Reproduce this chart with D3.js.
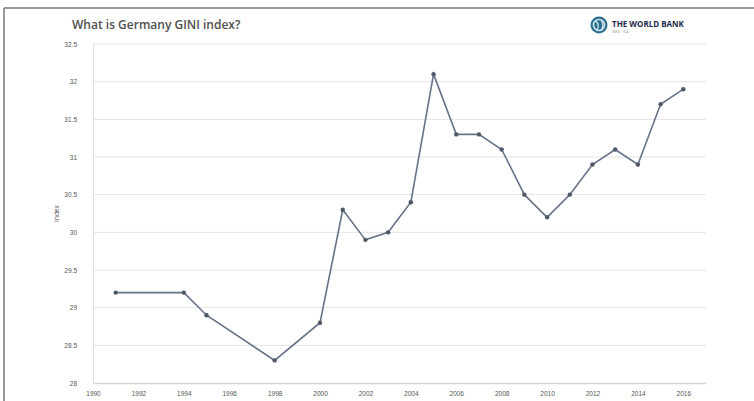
<!DOCTYPE html>
<html>
<head>
<meta charset="utf-8">
<script src="https://cdn.jsdelivr.net/npm/d3@7"></script>
<style>
  html, body { margin: 0; padding: 0; background: #fff; }
  svg { display: block; font-family: "Open Sans", "DejaVu Sans", sans-serif; }
</style>
</head>
<body>
<svg id="chart" width="754" height="401"></svg>
<script>
const years = [1991, 1994, 1995, 1998, 2000, 2001, 2002, 2003, 2004, 2005, 2006, 2007, 2008, 2009, 2010, 2011, 2012, 2013, 2014, 2015, 2016];
const giniValues = [29.2, 29.2, 28.9, 28.3, 28.8, 30.3, 29.9, 30.0, 30.4, 32.1, 31.3, 31.3, 31.1, 30.5, 30.2, 30.5, 30.9, 31.1, 30.9, 31.7, 31.9];
const xTicks = [1990, 1992, 1994, 1996, 1998, 2000, 2002, 2004, 2006, 2008, 2010, 2012, 2014, 2016];
const yTicks = [28, 28.5, 29, 29.5, 30, 30.5, 31, 31.5, 32, 32.5];
const titleText = "What is Germany GINI index?";
const yLabel = "Index";

(function () {
const svg = d3.select("#chart");
const W = 754, H = 401;
const mLeft = 93, mRight = 706, mTop = 44, mBottom = 383;

// frame
svg.append("line").attr("x1", 4).attr("x2", W).attr("y1", 8).attr("y2", 8)
  .attr("stroke", "#777").attr("stroke-width", 1.5);
svg.append("line").attr("x1", 4).attr("x2", 4).attr("y1", 8).attr("y2", H)
  .attr("stroke", "#777").attr("stroke-width", 1.5);

const x = d3.scaleLinear().domain([1990, 2017]).range([mLeft, mRight]);
const y = d3.scaleLinear().domain([28, 32.5]).range([mBottom, mTop]);

// gridlines
svg.append("g").selectAll("line").data(yTicks.slice(1)).join("line")
  .attr("x1", mLeft).attr("x2", mRight)
  .attr("y1", d => y(d)).attr("y2", d => y(d))
  .attr("stroke", "#e3e3e3").attr("stroke-width", 1);

// y axis
const yAxis = svg.append("g").attr("transform", `translate(${mLeft},0)`)
  .call(d3.axisLeft(y).tickValues(yTicks).tickSize(0).tickPadding(16).tickFormat(d3.format("")));
yAxis.select(".domain").attr("stroke", "#e0e0e0");
yAxis.selectAll("text").attr("fill", "#555").style("font-size", "6.5px");

// x axis
const xAxis = svg.append("g").attr("transform", `translate(0,${mBottom})`)
  .call(d3.axisBottom(x).tickValues(xTicks).tickSize(0).tickPadding(8).tickFormat(d3.format("d")));
xAxis.select(".domain").attr("stroke", "#d6d6d6").attr("stroke-width", 1.5);
xAxis.selectAll("text").attr("fill", "#555").style("font-size", "6.5px");

// y label
svg.append("text").attr("transform", `translate(59,${(mTop + mBottom) / 2}) rotate(-90)`)
  .attr("text-anchor", "middle").attr("fill", "#555").style("font-size", "6.5px").text(yLabel);

// line
const line = d3.line().x((d, i) => x(years[i])).y(d => y(d));
svg.append("path").datum(giniValues).attr("d", line)
  .attr("fill", "none").attr("stroke", "#667389").attr("stroke-width", 1.6);
svg.append("g").selectAll("circle").data(giniValues).join("circle")
  .attr("cx", (d, i) => x(years[i])).attr("cy", d => y(d)).attr("r", 2.2)
  .attr("fill", "#4e5867");

// title
svg.append("text").attr("x", 72).attr("y", 29).attr("fill", "#505050")
  .style("font-size", "12px").style("font-weight", "600").text(titleText);

// logo
const logo = svg.append("g").attr("transform", "translate(599,25)");
logo.append("circle").attr("r", 8.5).attr("fill", "#2a6f8e");
logo.append("circle").attr("r", 5.5).attr("fill", "none").attr("stroke", "#cfe3ec").attr("stroke-width", 1.6);
logo.append("path").attr("d", "M-3,-4 Q1,0 -2,5 M2,-5 Q5,-1 3,4").attr("fill", "none").attr("stroke", "#cfe3ec").attr("stroke-width", 1.2);
svg.append("text").attr("x", 612).attr("y", 27).attr("fill", "#1d2a4a")
  .style("font-size", "8px").style("font-weight", "bold").text("THE WORLD BANK");
svg.append("text").attr("x", 612).attr("y", 33).attr("fill", "#999")
  .style("font-size", "3.5px").text("IBRD · IDA");
})();
</script>
</body>
</html>
